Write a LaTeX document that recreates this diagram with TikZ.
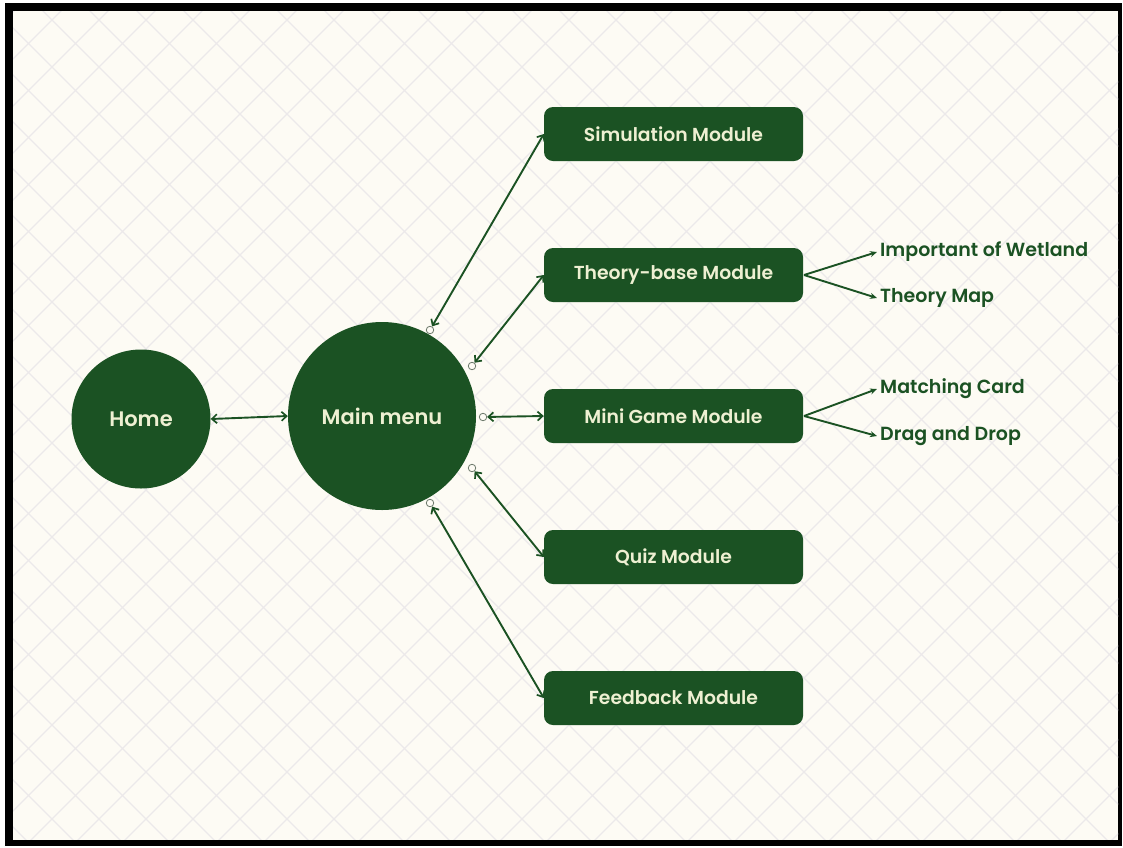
\documentclass[tikz,border=0pt]{standalone}
\usepackage{fontspec}
\setmainfont{Poppins}[BoldFont={Poppins SemiBold}]
\usetikzlibrary{arrows.meta}
\definecolor{leaf}{HTML}{1B5223}
\definecolor{cream}{HTML}{EEF0D2}
\definecolor{paper}{HTML}{FDFBF4}
\definecolor{hatch}{HTML}{ECE9EA}
\definecolor{knob}{HTML}{6E7A6C}
\tikzset{
  hub/.style={circle, fill=leaf, text=cream, font=\fontsize{21}{25}\selectfont\bfseries, inner sep=0pt},
  modbox/.style={rectangle, rounded corners=9pt, fill=leaf, text=cream, minimum width=259pt, minimum height=54pt, inner sep=0pt, font=\fontsize{18.8}{22}\selectfont\bfseries},
  leaftext/.style={text=leaf, anchor=west, inner sep=0pt, font=\fontsize{19}{22}\selectfont\bfseries},
  link/.style={draw=leaf, line width=1.9pt, {Straight Barb[length=5pt,width=9pt,line width=1.7pt]}-{Straight Barb[length=5pt,width=9pt,line width=1.7pt]}},
  branch/.style={draw=leaf, line width=1.9pt, -{Stealth[length=7pt,width=6pt]}},
  handle/.style={circle, draw=knob, fill=paper, line width=0.8pt, minimum size=7.5pt, inner sep=0pt}
}
\begin{document}
\begin{tikzpicture}[x=1pt,y=-1pt]
\useasboundingbox (0,0) rectangle (1123,847);
% frame and paper
\fill[white] (0,0) rectangle (1123,847);
\fill[black] (5,3) rectangle (1122,846);
\fill[paper] (13,11) rectangle (1118,840);
% diagonal lattice
\begin{scope}
  \clip (13,11) rectangle (1118,839.5);
  \foreach \k in {-20,...,45} {
    \draw[hatch, line width=1.3pt] ({72+47*\k},0) -- ++(-900,900);
    \draw[hatch, line width=1.3pt] ({32+47*\k},0) -- ++(900,900);
  }
\end{scope}
% hubs
\node[hub, minimum size=139pt] (home) at (141,419) {Home};
\node[hub, minimum size=188pt] (main) at (382,416) {Main menu};
% modules
\node[modbox] (sim)  at (673.5,134) {Simulation Module};
\node[modbox] (theo) at (673.5,275) {Theory-base Module};
\node[modbox] (mini) at (673.5,416) {Mini Game Module};
\node[modbox] (quiz) at (673.5,557) {Quiz Module};
\node[modbox] (feed) at (673.5,698) {Feedback Module};
% sub-items
\node[leaftext] (wet)   at (880,252) {Important of Wetland};
\node[leaftext] (tmap)  at (880,298) {Theory Map};
\node[leaftext] (card)  at (880,389) {Matching Card};
\node[leaftext] (drag)  at (880,436) {Drag and Drop};
% connection handles around the menu
\node[handle] (h1) at (430,330) {};
\node[handle] (h2) at (472,366) {};
\node[handle] (h3) at (483,417) {};
\node[handle] (h4) at (472,468) {};
\node[handle] (h5) at (430,503) {};
% links
\draw[link] (home.east) -- (main.west);
\draw[link] (h1) -- (sim.west);
\draw[link] (h2) -- (theo.west);
\draw[link] (h3) -- (mini.west);
\draw[link] (h4) -- (quiz.west);
\draw[link] (h5) -- (feed.west);
% branches
\coordinate (tfork) at (804,275);
\coordinate (mfork) at (804,416);
\draw[branch] (tfork) -- ([xshift=-3pt]wet.west);
\draw[branch] (tfork) -- ([xshift=-3pt]tmap.west);
\draw[branch] (mfork) -- ([xshift=-3pt]card.west);
\draw[branch] (mfork) -- ([xshift=-3pt]drag.west);
\end{tikzpicture}
\end{document}
